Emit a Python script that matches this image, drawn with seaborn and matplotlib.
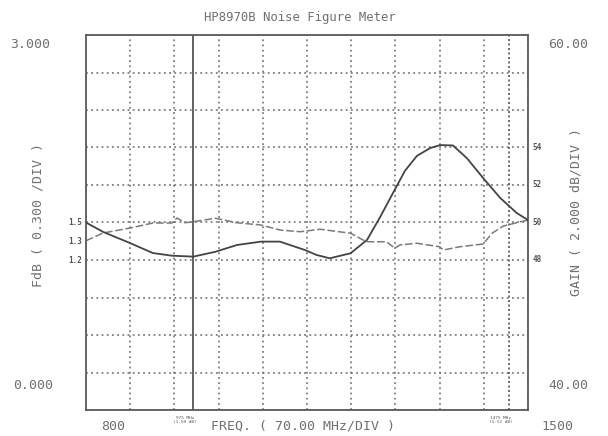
import numpy as np
import matplotlib
matplotlib.use("Agg")
import matplotlib.pyplot as plt
import seaborn as sns

# ---------------- data ----------------
title = "HP8970B Noise Figure Meter"

freq_gain = [800, 827, 870, 906, 936, 970, 1005, 1039, 1077, 1107, 1147, 1165,
             1186, 1219, 1245, 1266, 1285, 1305, 1324, 1345, 1361, 1381, 1403,
             1429, 1456, 1482, 1500]
gain_db = [50.0, 49.5, 48.9, 48.37, 48.23, 48.18, 48.44, 48.8, 48.98, 48.98,
           48.53, 48.27, 48.09, 48.36, 49.07, 50.3, 51.5, 52.75, 53.55, 53.97,
           54.13, 54.11, 53.44, 52.37, 51.31, 50.51, 50.13]

freq_nf = [800, 827, 870, 906, 936, 944, 957, 970, 1005, 1039, 1077, 1107, 1139,
           1171, 1219, 1244, 1276, 1289, 1297, 1324, 1360, 1366, 1392, 1429, 1443,
           1461, 1500]
nf_db = [1.354, 1.416, 1.456, 1.496, 1.496, 1.536, 1.498, 1.506, 1.534, 1.498,
         1.48, 1.44, 1.426, 1.446, 1.414, 1.346, 1.346, 1.294, 1.32, 1.334, 1.306,
         1.28, 1.306, 1.328, 1.414, 1.472, 1.52]

freq_range = [800, 1500]
nf_range = [0.0, 3.0]
gain_range = [40.0, 60.0]
nf_corner_labels = ["0.000", "3.000"]
gain_corner_labels = ["40.00", "60.00"]
freq_end_labels = ["800", "1500"]
x_label = "FREQ. ( 70.00 MHz/DIV )"
nf_label = "FdB ( 0.300 /DIV )"
gain_label = "GAIN ( 2.000 dB/DIV )"

marker_freqs = [970, 1470]
marker_labels = ["975 MHz\n(1.50 dB)", "1475 MHz\n(1.52 dB)"]

nf_notes = [1.5, 1.35, 1.2]
nf_note_labels = ["1.5", "1.3", "1.2"]
gain_notes = [54, 52, 50, 48]
gain_note_labels = ["54", "52", "50", "48"]

# ---------------- style ----------------
sns.set_style("white")
plt.rcParams["font.family"] = ["DejaVu Sans Mono", "DejaVu Sans"]
TXT = "#707070"

W, H = 608, 436
fig = plt.figure(figsize=(W / 100, H / 100), dpi=100)
L, R, T, B = 86, 528, 35, 410
ax = fig.add_axes([L / W, 1 - B / H, (R - L) / W, (B - T) / H])


def fp(x, y):
    return x / W, 1 - y / H


ax.set_xlim(*freq_range)
ax.set_ylim(*nf_range)
ax.set_xticks(np.linspace(freq_range[0], freq_range[1], 11))
ax.set_yticks(np.linspace(nf_range[0], nf_range[1], 11))
ax.grid(True, linestyle=(0, (1.2, 2.2)), color="#6a6a6a", linewidth=1.1)
ax.tick_params(length=0, labelbottom=False, labelleft=False)
for s in ax.spines.values():
    s.set_color("#5a5a5a")
    s.set_linewidth(1.3)

ax2 = ax.twinx()
ax2.set_ylim(*gain_range)
ax2.set_yticks([])
ax2.tick_params(length=0)
for s in ax2.spines.values():
    s.set_visible(False)

# marker lines
ax.axvline(marker_freqs[0], color="#555555", lw=1.3)
ax.axvline(marker_freqs[1], color="#555555", lw=1.2, linestyle=(0, (1.2, 1.5)))

# curves
sns.lineplot(x=freq_nf, y=nf_db, ax=ax, color="#7a7a7a", lw=1.1,
             linestyle=(0, (5, 1.8)), legend=False)
sns.lineplot(x=freq_gain, y=gain_db, ax=ax2, color="#444444", lw=1.3,
             legend=False)
ax.set_xlabel("")
ax.set_ylabel("")
ax2.set_ylabel("")

# ---------------- text ----------------
fs = 9.5
fig.text(*fp(300, 18), title, ha="center", va="center", fontsize=8.8, color=TXT)
fig.text(*fp(30, 45), nf_corner_labels[1], ha="center", va="center", fontsize=fs, color=TXT)
fig.text(*fp(33, 385), nf_corner_labels[0], ha="center", va="center", fontsize=fs, color=TXT)
fig.text(*fp(568, 45), gain_corner_labels[1], ha="center", va="center", fontsize=fs, color=TXT)
fig.text(*fp(568, 385), gain_corner_labels[0], ha="center", va="center", fontsize=fs, color=TXT)
fig.text(*fp(113, 426), freq_end_labels[0], ha="center", va="center", fontsize=fs, color=TXT)
fig.text(*fp(557, 426), freq_end_labels[1], ha="center", va="center", fontsize=fs, color=TXT)
fig.text(*fp(303, 426), x_label, ha="center", va="center", fontsize=fs, color=TXT)
fig.text(*fp(38, 215), nf_label, ha="center", va="center", rotation=90, fontsize=fs, color=TXT)
fig.text(*fp(576, 212), gain_label, ha="center", va="center", rotation=90, fontsize=fs, color=TXT)

for v, lab in zip(nf_notes, nf_note_labels):
    ax.annotate(lab, xy=(0, v), xycoords=("axes fraction", "data"), xytext=(-3, 0),
                textcoords="offset points", ha="right", va="center",
                fontsize=5.5, color="#555555", fontweight="bold")
for v, lab in zip(gain_notes, gain_note_labels):
    ax2.annotate(lab, xy=(1, v), xycoords=("axes fraction", "data"), xytext=(3, 0),
                 textcoords="offset points", ha="left", va="center",
                 fontsize=5.5, color="#555555", fontweight="bold")
for f, lab in zip(marker_freqs, marker_labels):
    ax.annotate(lab, xy=(f, 0), xycoords="data", xytext=(-6, -4),
                textcoords="offset points", ha="center", va="top",
                fontsize=3.2, color="#555555", linespacing=1.0)

fig.savefig("out.png", dpi=100)
